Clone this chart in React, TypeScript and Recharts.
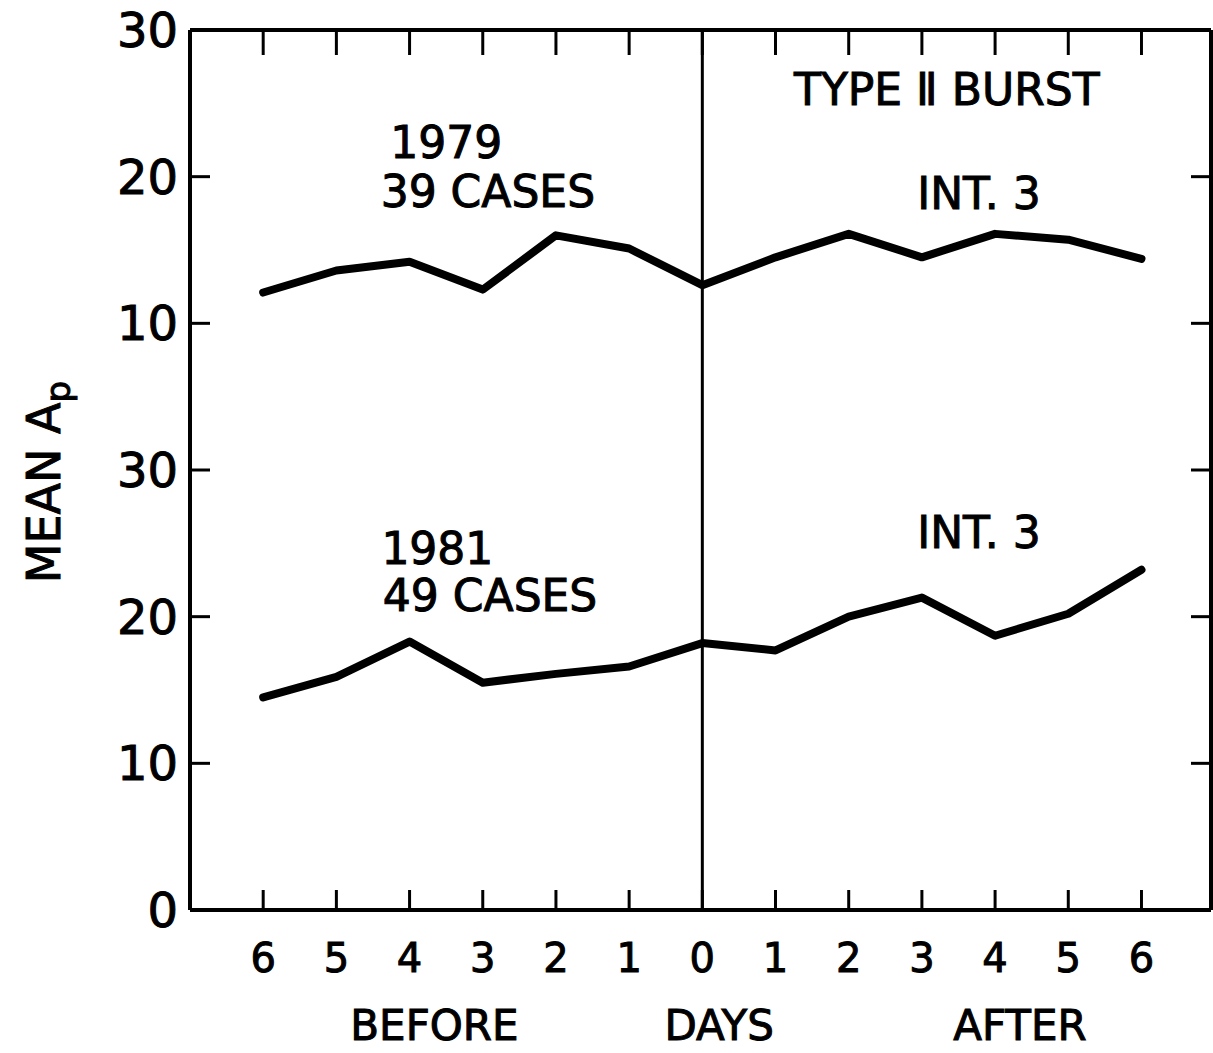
import React from 'react';
import { ComposedChart, Line, XAxis, YAxis, ReferenceLine, ReferenceDot } from 'recharts';

const days = [-6, -5, -4, -3, -2, -1, 0, 1, 2, 3, 4, 5, 6];
const dayLabels = ['6', '5', '4', '3', '2', '1', '0', '1', '2', '3', '4', '5', '6'];
const ap1979 = [12.1, 13.6, 14.2, 12.3, 16.0, 15.1, 12.6, 14.5, 16.1, 14.5, 16.1, 15.7, 14.4];
const ap1981 = [14.5, 15.9, 18.3, 15.5, 16.1, 16.6, 18.2, 17.7, 20.0, 21.3, 18.7, 20.2, 23.2];
const panelOffset = 30;
const yTicks = [0, 10, 20, 30, 40, 50, 60];
const yTickLabels = ['0', '10', '20', '30', '10', '20', '30'];
const rightTicks = [10, 20, 30, 40, 50];

const notes = [
  { text: '1979', x: -3.5, y: 52.35 },
  { text: '39 CASES', x: -2.93, y: 49.0 },
  { text: 'TYPE \u2161 BURST', x: 3.34, y: 56.0 },
  { text: 'INT. 3', x: 3.78, y: 48.9 },
  { text: 'INT. 3', x: 3.78, y: 25.8 },
  { text: '1981', x: -3.62, y: 24.7 },
  { text: '49 CASES', x: -2.9, y: 21.5 },
];
const axisWords = [
  { text: 'BEFORE', x: -3.66, y: -7.85 },
  { text: 'DAYS', x: 0.23, y: -7.85 },
  { text: 'AFTER', x: 4.34, y: -7.85 },
];

const data = days.map((d, i) => ({ day: d, upper: ap1979[i] + panelOffset, lower: ap1981[i] }));

const FONT = '"DejaVu Sans", sans-serif';

const BottomTick = (props: any) => {
  const { x, y, payload } = props;
  const idx = days.indexOf(payload.value);
  return (
    <g>
      <line x1={x} y1={y} x2={x} y2={y - 20} stroke="#000" strokeWidth={3} />
      <text x={x} y={y + 62} textAnchor="middle" fontSize={40} fontFamily={FONT} fill="#000" stroke="#000" strokeWidth={1}>
        {dayLabels[idx]}
      </text>
    </g>
  );
};

const TopTick = (props: any) => {
  const { x, y } = props;
  return <line x1={x} y1={y} x2={x} y2={y + 25} stroke="#000" strokeWidth={3} />;
};

const LeftTick = (props: any) => {
  const { x, y, payload } = props;
  const idx = yTicks.indexOf(payload.value);
  return (
    <g>
      {payload.value > 0 && payload.value < 60 ? (
        <line x1={x} y1={y} x2={x + 20} y2={y} stroke="#000" strokeWidth={3} />
      ) : null}
      <text x={x - 12} y={y + 17} textAnchor="end" fontSize={48} fontFamily={FONT} fill="#000" stroke="#000" strokeWidth={1}>
        {yTickLabels[idx]}
      </text>
    </g>
  );
};

const RightTick = (props: any) => {
  const { x, y } = props;
  return <line x1={x} y1={y} x2={x - 20} y2={y} stroke="#000" strokeWidth={3} />;
};

const noteContent = (text: string, size: number) => (p: any) => {
  const vb = p.viewBox || {};
  const cx = (vb.x ?? 0) + (vb.width ?? 0) / 2;
  const cy = (vb.y ?? 0) + (vb.height ?? 0) / 2;
  return (
    <text x={cx} y={cy + size * 0.365} textAnchor="middle" fontSize={size} fontFamily={FONT} fill="#000" stroke="#000" strokeWidth={1}>
      {text}
    </text>
  );
};

const yLabelContent = (p: any) => {
  const vb = p.viewBox || { x: 0, y: 0, width: 190, height: 880 };
  const bx = vb.x + 60;
  const by = vb.y + vb.height / 2 + 12;
  return (
    <text
      x={bx}
      y={by}
      transform={`rotate(-90, ${bx}, ${by})`}
      textAnchor="middle"
      fontSize={46}
      fontFamily={FONT}
      fill="#000"
      stroke="#000"
      strokeWidth={1}
    >
      MEAN A
      <tspan fontSize={34} dy={10}>p</tspan>
    </text>
  );
};

export default function App() {
  return (
    <div style={{ position: 'absolute', left: 0, top: 0, width: 1213, height: 1053, background: '#fff' }}>
      <ComposedChart width={1213} height={1053} data={data} margin={{ top: 29, right: 1, bottom: 0, left: 0 }}>
        <XAxis
          dataKey="day"
          type="number"
          domain={[-7, 6.95]}
          ticks={days}
          interval={0}
          height={143}
          tickSize={0}
          tickMargin={0}
          tickLine={false}
          axisLine={{ stroke: '#000', strokeWidth: 4 }}
          tick={<BottomTick />}
        />
        <XAxis
          xAxisId="top"
          dataKey="day"
          orientation="top"
          type="number"
          domain={[-7, 6.95]}
          ticks={days}
          interval={0}
          height={1}
          tickSize={0}
          tickMargin={0}
          tickLine={false}
          axisLine={{ stroke: '#000', strokeWidth: 4 }}
          tick={<TopTick />}
        />
        <YAxis
          type="number"
          domain={[0, 60]}
          ticks={yTicks}
          interval={0}
          width={190}
          tickSize={0}
          tickMargin={0}
          tickLine={false}
          axisLine={{ stroke: '#000', strokeWidth: 4 }}
          tick={<LeftTick />}
          label={{ content: yLabelContent }}
        />
        <YAxis
          yAxisId="right"
          orientation="right"
          type="number"
          domain={[0, 60]}
          ticks={rightTicks}
          interval={0}
          width={1}
          tickSize={0}
          tickMargin={0}
          tickLine={false}
          axisLine={{ stroke: '#000', strokeWidth: 4 }}
          tick={<RightTick />}
        />
        <ReferenceLine x={0} stroke="#000" strokeWidth={3} />
        <Line
          xAxisId="top"
          yAxisId="right"
          dataKey="lower"
          type="linear"
          stroke="none"
          strokeOpacity={0}
          dot={false}
          activeDot={false}
          legendType="none"
          isAnimationActive={false}
        />
        <Line
          dataKey="upper"
          type="linear"
          stroke="#000"
          strokeWidth={8}
          strokeLinecap="round"
          strokeLinejoin="round"
          dot={false}
          isAnimationActive={false}
        />
        <Line
          dataKey="lower"
          type="linear"
          stroke="#000"
          strokeWidth={8}
          strokeLinecap="round"
          strokeLinejoin="round"
          dot={false}
          isAnimationActive={false}
        />
        {notes.map((n, i) => (
          <ReferenceDot
            key={'n' + i}
            x={n.x}
            y={n.y}
            r={0}
            fill="none"
            stroke="none"
            ifOverflow="visible"
            label={{ content: noteContent(n.text, 44) }}
          />
        ))}
        {axisWords.map((n, i) => (
          <ReferenceDot
            key={'w' + i}
            x={n.x}
            y={n.y}
            r={0}
            fill="none"
            stroke="none"
            ifOverflow="visible"
            label={{ content: noteContent(n.text, 42) }}
          />
        ))}
      </ComposedChart>
    </div>
  );
}
